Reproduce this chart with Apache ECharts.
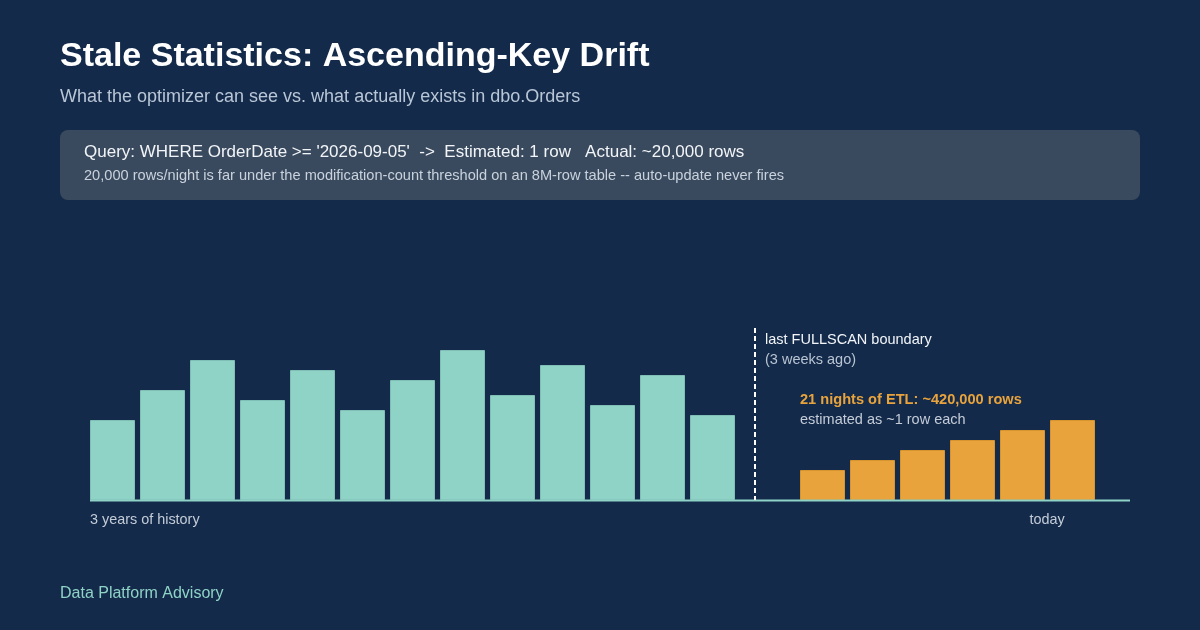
<!DOCTYPE html>
<html>
<head>
<meta charset="utf-8">
<title>Stale Statistics: Ascending-Key Drift</title>
<script src="https://cdn.jsdelivr.net/npm/echarts@6/dist/echarts.min.js"></script>
<style>
  html, body { margin: 0; padding: 0; background: #132a4a; }
  #chart { width: 1200px; height: 630px; }
</style>
</head>
<body>
<div id="chart"></div>
<script>
var chartDom = document.getElementById('chart');
var myChart = echarts.init(chartDom, null, { renderer: 'canvas' });

// history bars (before the last FULLSCAN) and the nightly ETL loads after it
var historyCats = ['P1', 'P2', 'P3', 'P4', 'P5', 'P6', 'P7', 'P8', 'P9', 'P10', 'P11', 'P12', 'P13'];
var historyValues = [80, 110, 140, 100, 130, 90, 120, 150, 105, 135, 95, 125, 85];
var etlCats = ['N1', 'N2', 'N3', 'N4', 'N5', 'N6'];
var etlValues = [30, 40, 50, 60, 70, 80];
var yMax = 200;

var FONT = '"Liberation Sans", Arial, sans-serif';
var teal = '#8fd3c7';
var orange = '#e8a33d';

function txt(x, y, text, size, color, weight, align) {
  return {
    type: 'text',
    x: x,
    y: y,
    silent: true,
    style: {
      text: text,
      fill: color,
      font: (weight || 'normal') + ' ' + size + 'px ' + FONT,
      textAlign: align || 'left',
      textVerticalAlign: 'middle'
    }
  };
}

var option = {
  backgroundColor: '#132a4a',
  animation: false,
  grid: [
    { left: 87.5, width: 650, top: 300, bottom: 130 },
    { left: 797.5, width: 300, top: 300, bottom: 130 }
  ],
  xAxis: [
    { type: 'category', gridIndex: 0, data: historyCats, axisLine: { show: false }, axisTick: { show: false }, axisLabel: { show: false } },
    { type: 'category', gridIndex: 1, data: etlCats, axisLine: { show: false }, axisTick: { show: false }, axisLabel: { show: false } }
  ],
  yAxis: [
    { type: 'value', gridIndex: 0, min: 0, max: yMax, show: false, splitLine: { show: false } },
    { type: 'value', gridIndex: 1, min: 0, max: yMax, show: false, splitLine: { show: false } }
  ],
  series: [
    {
      name: 'history',
      type: 'bar',
      xAxisIndex: 0,
      yAxisIndex: 0,
      barWidth: 45,
      itemStyle: { color: teal, borderColor: '#7fbfb5', borderWidth: 1 },
      data: historyValues
    },
    {
      name: 'etl',
      type: 'bar',
      xAxisIndex: 1,
      yAxisIndex: 1,
      barWidth: 45,
      itemStyle: { color: orange, borderColor: '#d8952f', borderWidth: 1 },
      data: etlValues
    }
  ],
  graphic: [
    txt(60, 57, 'Stale Statistics: Ascending-Key Drift', 34, '#ffffff', 'bold'),
    txt(60, 97, 'What the optimizer can see vs. what actually exists in dbo.Orders', 18, '#b9c6d6'),
    {
      type: 'rect',
      silent: true,
      shape: { x: 60, y: 130, width: 1080, height: 70, r: 8 },
      style: { fill: '#3a4a5e' }
    },
    txt(84, 152, "Query: WHERE OrderDate >= '2026-09-05'  ->  Estimated: 1 row   Actual: ~20,000 rows", 17, '#f2f5f8'),
    txt(84, 176, '20,000 rows/night is far under the modification-count threshold on an 8M-row table -- auto-update never fires', 14.6, '#c9d2dd'),
    {
      type: 'line',
      silent: true,
      z: 10,
      shape: { x1: 90, y1: 500.5, x2: 1130, y2: 500.5 },
      style: { stroke: teal, lineWidth: 2 }
    },
    {
      type: 'line',
      silent: true,
      z: 10,
      shape: { x1: 755, y1: 328, x2: 755, y2: 500 },
      style: { stroke: '#ffffff', lineWidth: 2, lineDash: [5, 3] }
    },
    txt(765, 340, 'last FULLSCAN boundary', 14.5, '#f2f5f8'),
    txt(765, 360, '(3 weeks ago)', 14.5, '#b9c4d2'),
    txt(800, 400, '21 nights of ETL: ~420,000 rows', 14.6, orange, 'bold'),
    txt(800, 420, 'estimated as ~1 row each', 14.5, '#c4ccd8'),
    txt(90, 520, '3 years of history', 14.4, '#c4ccd8'),
    txt(1047, 520, 'today', 14.4, '#c4ccd8', 'normal', 'center'),
    txt(60, 594, 'Data Platform Advisory', 16, teal)
  ]
};

option && myChart.setOption(option);
</script>
</body>
</html>
